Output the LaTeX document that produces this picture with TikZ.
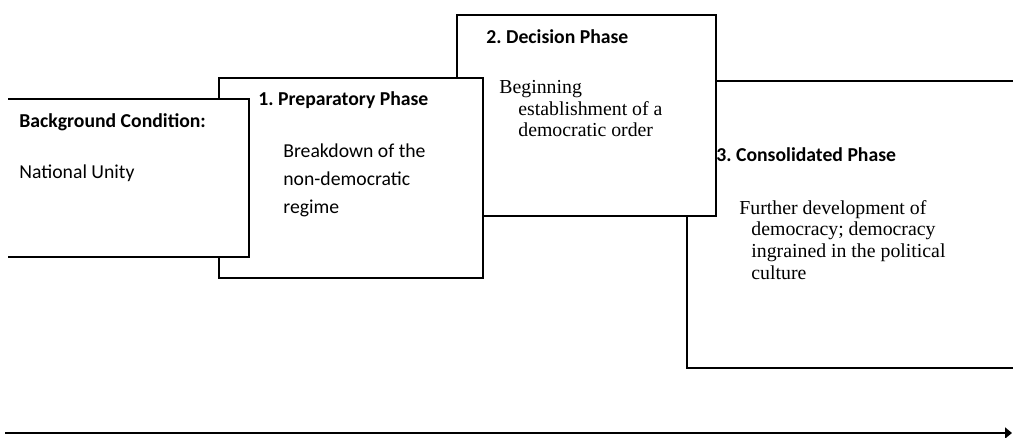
\documentclass[tikz,border=0pt]{standalone}
\usepackage{fontspec}
\setmainfont{Carlito}
\newfontfamily\serifphase{Liberation Serif}
\usetikzlibrary{arrows.meta}
\frenchspacing

\begin{document}
\begin{tikzpicture}[x=0.5pt,y=-0.5pt,>={Triangle[length=3.5pt,width=5.5pt]},
  phasebox/.style={rectangle,draw=black,fill=white,line width=1pt,anchor=north west,inner sep=0pt},
  headtext/.style={anchor=west,inner sep=0pt,font=\fontsize{9.85}{14}\selectfont\bfseries},
  sanstext/.style={anchor=north west,inner sep=0pt,align=left,font=\fontsize{9.85}{14}\selectfont},
  seriftext/.style={anchor=north west,inner sep=0pt,align=left,font=\serifphase\fontsize{9.9}{10.8}\selectfont}]
\useasboundingbox (0,0) rectangle (1013,438);
\begin{scope}
\clip (8,0) rectangle (1013,438);
% boxes, from back to front
\node[phasebox,minimum width=172pt,minimum height=143.5pt] (p3) at (686,80) {};
\node[phasebox,minimum width=129.5pt,minimum height=100.5pt] (p2) at (456,14) {};
\node[phasebox,minimum width=132pt,minimum height=100pt] (p1) at (218,77) {};
\node[phasebox,minimum width=129pt,minimum height=79pt] (bg) at (-10,98) {};
\end{scope}
% texts
\node[headtext] (bgtitle) at (19,122) {Background Condition:};
\node[sanstext,anchor=west] (bgtext) at (19,173) {National Unity};
\node[headtext] (p1title) at (258,100) {1. Preparatory Phase};
\node[sanstext] (p1text) at (283,143) {Breakdown of the\\non-democratic\\regime};
\node[headtext] (p2title) at (486,37) {2. Decision Phase};
\node[seriftext] (p2text) at (499,80) {Beginning\\\hspace*{9.5pt}establishment of a\\\hspace*{9.5pt}democratic order};
\node[headtext] (p3title) at (716,155) {3. Consolidated Phase};
\node[seriftext] (p3text) at (739,200) {Further development of\\\hspace*{6pt}democracy; democracy\\\hspace*{6pt}ingrained in the political\\\hspace*{6pt}culture};
% time axis
\coordinate (tstart) at (5,433);
\coordinate (tend) at (1012,433);
\draw[->,line width=1pt] (tstart) -- (tend);
\end{tikzpicture}
\end{document}
